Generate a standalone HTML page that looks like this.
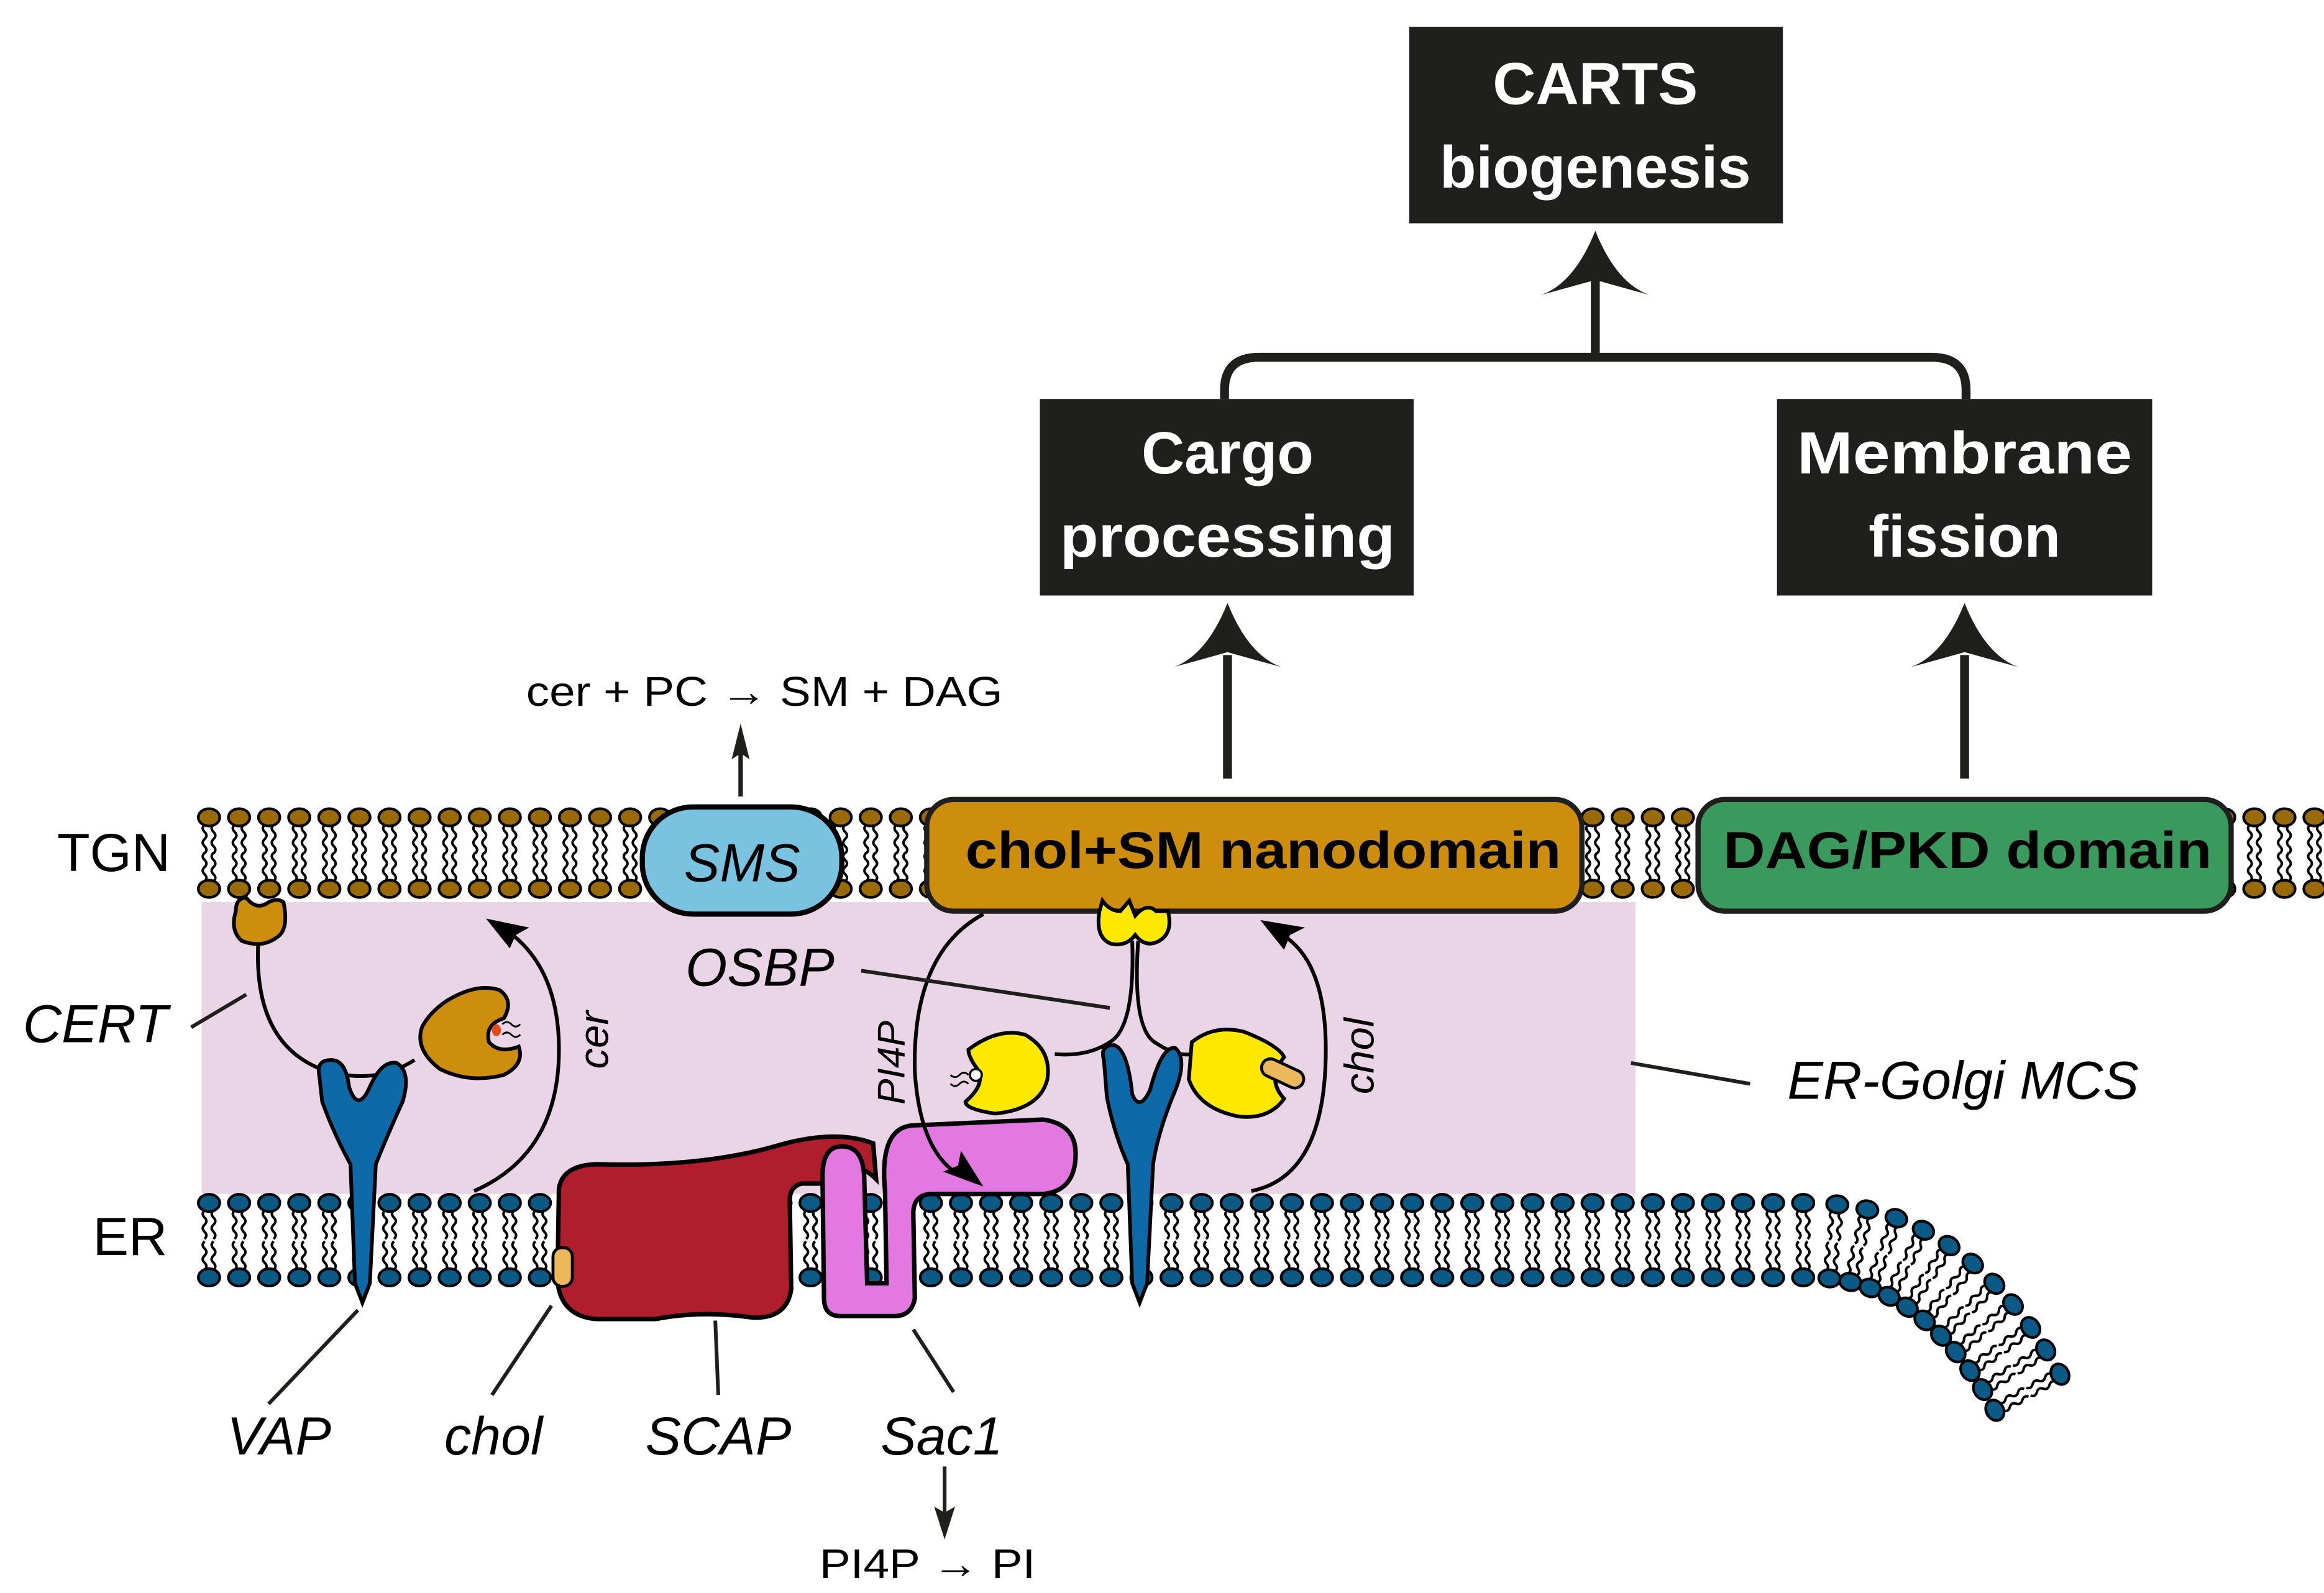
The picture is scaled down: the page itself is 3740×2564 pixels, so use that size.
<!DOCTYPE html>
<html><head><meta charset="utf-8"><style>
html,body{margin:0;padding:0;background:#fff;width:3740px;height:2564px;overflow:hidden}
svg{display:block}
text{font-family:"Liberation Sans",sans-serif}
</style></head><body>
<svg id="s" width="3740" height="2564" viewBox="0 0 1560 1070" xmlns="http://www.w3.org/2000/svg">
<defs>
<g id="tgnL">
<path d="M-3,5 q-2.5,2.4 0,4.8 q2.5,2.4 0,4.8 q-2.5,2.4 0,4.8 q2.5,2.4 0,4.8 M3,5 q-2.5,2.4 0,4.8 q2.5,2.4 0,4.8 q-2.5,2.4 0,4.8 q2.5,2.4 0,4.8" fill="none" stroke="#000" stroke-width="1.7"/>
<ellipse cx="0" cy="0" rx="7.2" ry="5.8" fill="#9a6a06" stroke="#000" stroke-width="1.8"/>
</g>
<g id="erL">
<path d="M-3,5 q-2.5,2.4 0,4.8 q2.5,2.4 0,4.8 q-2.5,2.4 0,4.8 q2.5,2.4 0,4.8 M3,5 q-2.5,2.4 0,4.8 q2.5,2.4 0,4.8 q-2.5,2.4 0,4.8 q2.5,2.4 0,4.8" fill="none" stroke="#000" stroke-width="1.7"/>
<ellipse cx="0" cy="0" rx="7.2" ry="5.8" fill="#0b5a86" stroke="#000" stroke-width="1.8"/>
</g>
</defs>
<rect x="135" y="606" width="963" height="196" fill="#ead5e6"/>
<g id="lip"></g>

<rect x="946" y="18" width="251" height="132" fill="#1f1f1d"/>
<text x="1071" y="70" fill="#fff" font-size="40" font-weight="bold" text-anchor="middle">CARTS</text>
<text x="1071" y="126" fill="#fff" font-size="40" font-weight="bold" text-anchor="middle">biogenesis</text>
<rect x="698" y="268" width="251" height="132" fill="#1f1f1d"/>
<text x="824" y="318" fill="#fff" font-size="40" font-weight="bold" text-anchor="middle">Cargo</text>
<text x="824" y="374" fill="#fff" font-size="40" font-weight="bold" text-anchor="middle" textLength="225" lengthAdjust="spacingAndGlyphs">processing</text>
<rect x="1193" y="268" width="252" height="132" fill="#1f1f1d"/>
<text x="1319" y="318" fill="#fff" font-size="40" font-weight="bold" text-anchor="middle" textLength="225" lengthAdjust="spacingAndGlyphs">Membrane</text>
<text x="1319" y="374" fill="#fff" font-size="40" font-weight="bold" text-anchor="middle">fission</text>

<g fill="none" stroke="#1f1f1d" stroke-width="6">
<path d="M822,268 L822,262 Q822,240 845,240 L1297,240 Q1320,240 1320,262 L1320,268"/>
<path d="M1071,240 L1071,185"/>
<path d="M824,523 L824,440"/>
<path d="M1319,523 L1319,440"/>
</g>
<g fill="#1f1f1d">
<path d="M1071,155 Q1085,190 1107,198 Q1085,192 1071,188 Q1057,192 1035,198 Q1057,190 1071,155Z"/>
<path d="M824,405 Q838,440 860,448 Q838,442 824,438 Q810,442 788,448 Q810,440 824,405Z"/>
<path d="M1319,405 Q1333,440 1355,448 Q1333,442 1319,438 Q1305,442 1283,448 Q1305,440 1319,405Z"/>
</g>

<text x="513" y="474" font-size="28" text-anchor="middle" textLength="320" lengthAdjust="spacingAndGlyphs">cer + PC → SM + DAG</text>
<path d="M497,535 L497,500" stroke="#1f1f1d" stroke-width="3"/>
<path d="M497,486 L503,510 L497,506 L491,510Z" fill="#1f1f1d"/>

<rect x="431" y="542" width="134" height="72" rx="34" fill="#7ac3e0" stroke="#000" stroke-width="3.5"/>
<text x="498" y="592" font-size="36" font-style="italic" text-anchor="middle">SMS</text>
<rect x="622" y="537" width="440" height="75" rx="18" fill="#cc8e0c" stroke="#1f1f1d" stroke-width="3.5"/>
<text x="848" y="583" font-size="35" font-weight="bold" text-anchor="middle" textLength="400" lengthAdjust="spacingAndGlyphs">chol+SM nanodomain</text>
<rect x="1140" y="537" width="358" height="75" rx="18" fill="#3a9a5e" stroke="#1f1f1d" stroke-width="3.5"/>
<text x="1321" y="583" font-size="35" font-weight="bold" text-anchor="middle" textLength="328" lengthAdjust="spacingAndGlyphs">DAG/PKD domain</text>

<text x="38" y="585" font-size="36">TGN</text>
<text x="62" y="843" font-size="36">ER</text>

<path d="M158,612 Q158,603 165,603 Q172,612 180,606 Q186,603 190,606 Q194,625 185,630 Q175,637 162,632 Q154,625 158,612Z" fill="#cc8e0c" stroke="#000" stroke-width="2.5"/>
<path d="M173,634 Q170,700 215,718 Q250,730 278,712" fill="none" stroke="#000" stroke-width="2.5"/>
<path d="M300,672 Q320,660 335,665 Q345,672 338,684 Q325,688 328,700 Q335,708 348,703 Q352,715 338,722 Q315,728 295,718 Q278,705 283,690 Q288,680 300,672Z" fill="#cc8e0c" stroke="#000" stroke-width="2.5"/>
<ellipse cx="333" cy="692" rx="3" ry="4" fill="#e24a1c"/>
<path d="M337,688 q3,-3 6,0 q3,3 6,0 M337,695 q3,-3 6,0 q3,3 6,0" fill="none" stroke="#000" stroke-width="1.2"/>
<path d="M318,800 Q375,775 375,705 Q375,650 340,625" fill="none" stroke="#000" stroke-width="2.5"/>
<path d="M326,617 L355,623 L346,628 L342,637Z" fill="#000"/>
<text transform="translate(408,718) rotate(-90)" font-size="28" font-style="italic">cer</text>

<path d="M214,722 Q212,712 222,712 Q232,712 234,730 Q240,748 248,730 Q256,712 266,714 Q276,720 270,740 Q260,762 252,782 L248,862 L243,875 L238,862 L235,782 Q224,762 216,740Z" fill="#0d69a8" stroke="#000" stroke-width="2.5"/>

<path d="M375,798 Q378,782 402,782 Q470,784 520,770 Q560,758 586,768 L588,792 Q574,778 566,793 L555,795 L538,795 Q530,797 530,806 L531,866 Q528,886 505,885 Q470,880 440,886 L400,886 Q376,884 374,860Z" fill="#b01e2e" stroke="#000" stroke-width="3"/>
<rect x="371" y="838" width="13" height="26" rx="6" fill="#ebb95a" stroke="#000" stroke-width="2"/>
<path d="M552,790 Q552,770 565,770 Q579,770 580,790 L582,862 L595,862 L594,800 Q590,758 612,756 L700,752 Q722,755 722,775 Q722,800 700,802 L624,802 Q613,803 613,815 L614,872 Q612,884 600,884 L564,884 Q553,884 553,872Z" fill="#e278e0" stroke="#000" stroke-width="3"/>

<path d="M738,612 L740,605 Q745,612 752,612 L758,605 L762,615 Q770,606 776,612 L784,612 Q788,628 776,633 Q768,636 762,628 Q756,636 746,634 Q735,630 738,612Z" fill="#ffe800" stroke="#000" stroke-width="2.5"/>
<path d="M760,632 Q762,690 745,700 Q730,710 708,708 M764,632 Q760,690 775,700 Q790,710 800,708" fill="none" stroke="#000" stroke-width="2.5"/>
<path d="M650,705 Q670,690 688,695 Q706,705 703,725 Q698,745 668,748 Q648,745 648,740 Q662,728 656,718 Q650,710 650,705Z" fill="#ffe800" stroke="#000" stroke-width="2.5"/>
<circle cx="655" cy="722" r="4" fill="#fff" stroke="#000" stroke-width="1.5"/>
<path d="M650,722 q-3,-3 -6,0 q-3,3 -6,0 M650,728 q-3,-3 -6,0 q-3,3 -6,0" fill="none" stroke="#000" stroke-width="1.2"/>
<path d="M800,700 Q815,688 835,693 Q858,702 862,710 Q850,725 862,738 Q852,752 832,750 Q805,745 798,725Z" fill="#ffe800" stroke="#000" stroke-width="2.5"/>
<rect x="846" y="715" width="30" height="12" rx="6" transform="rotate(25 861 721)" fill="#ebb95a" stroke="#000" stroke-width="2"/>
<path d="M741,712 Q738,702 748,702 Q757,705 760,735 Q765,747 772,732 Q780,702 789,704 Q798,712 787,737 Q777,762 774,782 L770,862 L765,875 L760,862 L757,782 Q748,762 743,737Z" fill="#0d69a8" stroke="#000" stroke-width="2.5"/>
<path d="M660,614 Q612,640 614,720 Q618,780 650,792" fill="none" stroke="#000" stroke-width="2.5"/>
<path d="M660,797 L633,787 L643,783 L645,773Z" fill="#000"/>
<text transform="translate(607,742) rotate(-90)" font-size="26" font-style="italic">PI4P</text>
<path d="M840,800 Q890,790 890,705 Q890,640 855,625" fill="none" stroke="#000" stroke-width="2.5"/>
<path d="M846,618 L876,623 L866,628 L862,638Z" fill="#000"/>
<text transform="translate(922,735) rotate(-90)" font-size="28" font-style="italic">chol</text>

<g stroke="#1f1f1d" stroke-width="2.5">
<line x1="128" y1="690" x2="165" y2="668"/>
<line x1="578" y1="652" x2="745" y2="677"/>
<line x1="1095" y1="714" x2="1175" y2="728"/>
<line x1="240" y1="880" x2="180" y2="943"/>
<line x1="370" y1="877" x2="330" y2="937"/>
<line x1="480" y1="887" x2="482" y2="937"/>
<line x1="613" y1="893" x2="640" y2="935"/>
<line x1="634" y1="985" x2="634" y2="1018"/>
</g>
<path d="M634,1034 L641,1012 L634,1016 L627,1012Z" fill="#1f1f1d"/>
<g font-size="36" font-style="italic">
<text x="15" y="700">CERT</text>
<text x="460" y="662">OSBP</text>
<text x="1200" y="738">ER-Golgi MCS</text>
<text x="152" y="977">VAP</text>
<text x="298" y="977">chol</text>
<text x="433" y="977">SCAP</text>
<text x="591" y="977">Sac1</text>
</g>
<text x="550" y="1060" font-size="28" textLength="145" lengthAdjust="spacingAndGlyphs">PI4P → PI</text>
</svg>
<script>
(function(){
var g=document.getElementById('lip'),h='';
function put(id,x,y,a){h+='<use href="#'+id+'" transform="translate('+x.toFixed(2)+','+y.toFixed(2)+') rotate('+a.toFixed(2)+')"/>';}
var sp=20.2;
for(var x=140;x<=1556;x+=sp){put('tgnL',x,549,0);put('tgnL',x,597,180);}
var P0=[1215,833],P1=[1310,833],P2=[1368,948],lx=0;
for(var x=140;x<=P0[0];x+=sp){put('erL',x,808,0);put('erL',x,858,180);lx=x;}
function pt(t){var u=1-t;return [u*u*P0[0]+2*u*t*P1[0]+t*t*P2[0],u*u*P0[1]+2*u*t*P1[1]+t*t*P2[1]];}
function dr(t){var u=1-t;return [2*u*(P1[0]-P0[0])+2*t*(P2[0]-P1[0]),2*u*(P1[1]-P0[1])+2*t*(P2[1]-P1[1])];}
var L=[],prev=pt(0),acc=0,N=400;L.push([0,0]);
for(var i=1;i<=N;i++){var p=pt(i/N);acc+=Math.hypot(p[0]-prev[0],p[1]-prev[1]);L.push([i/N,acc]);prev=p;}
var s=lx+sp-P0[0],j=0;
while(s<acc){while(L[j][1]<s)j++;var t=L[j][0],p=pt(t),d=dr(t),m=Math.hypot(d[0],d[1]);
var nx=d[1]/m,ny=-d[0]/m;
var ang=Math.atan2(d[1],d[0])*180/Math.PI;
put('erL',p[0]+nx*25,p[1]+ny*25,ang);
put('erL',p[0]-nx*25,p[1]-ny*25,ang+180);
s+=sp*0.85;}
g.innerHTML=h;
})();
</script>
</body></html>
